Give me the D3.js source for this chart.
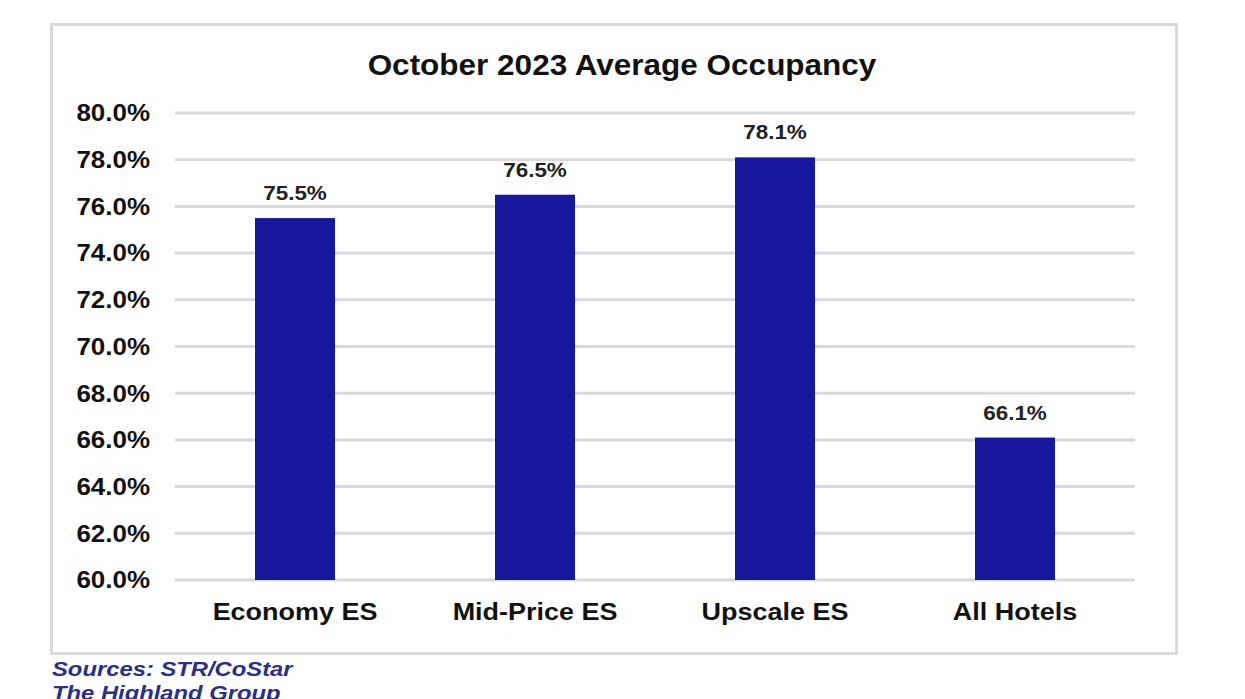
<!DOCTYPE html>
<html>
<head>
<meta charset="utf-8">
<script src="https://cdn.jsdelivr.net/npm/d3@7"></script>
<style>
  html, body { margin: 0; padding: 0; background: #fff; }
  svg { display: block; font-family: "Liberation Sans", Arial, sans-serif; }
</style>
</head>
<body>
<svg id="chart" width="1245" height="699"></svg>
<script>
const categories = ['Economy ES', 'Mid-Price ES', 'Upscale ES', 'All Hotels'];
const occupancy = [75.5, 76.5, 78.1, 66.1];
const yTicks = [60, 62, 64, 66, 68, 70, 72, 74, 76, 78, 80];

const PLOT = { left: 175, right: 1135, top: 113, bottom: 580 };
const BAR_COLOR = '#17179b';
const GRID_COLOR = '#d9d9d9';

// the source image is a little wider than tall, so text gets stretched sideways
function stretched(x, y, sx) {
  return `translate(${x},${y}) scale(${sx},1)`;
}

const svg = d3.select('#chart');

// outer frame
svg.append('rect')
  .attr('x', 51.5)
  .attr('y', 24.5)
  .attr('width', 1125)
  .attr('height', 629)
  .attr('fill', '#fff')
  .attr('stroke', GRID_COLOR)
  .attr('stroke-width', 3);

const x = d3.scaleBand()
  .domain(categories)
  .range([PLOT.left, PLOT.right])
  .paddingInner(2 / 3)
  .paddingOuter(1 / 3);

const y = d3.scaleLinear()
  .domain([60, 80])
  .range([PLOT.bottom, PLOT.top]);

// gridlines
svg.append('g')
  .selectAll('line')
  .data(yTicks)
  .join('line')
  .attr('x1', PLOT.left)
  .attr('x2', PLOT.right)
  .attr('y1', (d) => y(d))
  .attr('y2', (d) => y(d))
  .attr('stroke', GRID_COLOR)
  .attr('stroke-width', 3);

// y axis labels
const yAxis = d3.axisLeft(y)
  .tickValues(yTicks)
  .tickFormat((d) => `${d.toFixed(1)}%`)
  .tickSize(0);

const yAxisGroup = svg.append('g')
  .attr('transform', `translate(${PLOT.left},0)`)
  .call(yAxis);
yAxisGroup.select('.domain').remove();
yAxisGroup.selectAll('text')
  .attr('x', 0)
  .attr('transform', stretched(-25, 0, 1.06))
  .attr('font-size', 24.5)
  .attr('font-weight', 'bold')
  .attr('fill', '#111')
  .attr('font-family', '"Liberation Sans", Arial, sans-serif');

// bars
const data = categories.map((c, i) => ({ category: c, value: occupancy[i] }));

svg.append('g')
  .selectAll('rect')
  .data(data)
  .join('rect')
  .attr('x', (d) => x(d.category))
  .attr('y', (d) => y(d.value))
  .attr('width', x.bandwidth())
  .attr('height', (d) => y(60) - y(d.value))
  .attr('fill', BAR_COLOR);

// value labels
svg.append('g')
  .selectAll('text')
  .data(data)
  .join('text')
  .attr('transform', (d) => stretched(x(d.category) + x.bandwidth() / 2, y(d.value) - 18, 1.07))
  .attr('text-anchor', 'middle')
  .attr('font-size', 21)
  .attr('font-weight', 'bold')
  .attr('fill', '#222')
  .text((d) => `${d.value.toFixed(1)}%`);

// x axis labels
const xAxis = d3.axisBottom(x).tickSize(0);
const xAxisGroup = svg.append('g')
  .attr('transform', `translate(0,${PLOT.bottom})`)
  .call(xAxis);
xAxisGroup.select('.domain').remove();
xAxisGroup.selectAll('text')
  .attr('y', 0)
  .attr('dy', null)
  .attr('transform', stretched(0, 39.5, 1.1))
  .attr('font-size', 24.5)
  .attr('font-weight', 'bold')
  .attr('fill', '#111')
  .attr('font-family', '"Liberation Sans", Arial, sans-serif');

// title
svg.append('text')
  .attr('transform', stretched(622, 75, 1.05))
  .attr('text-anchor', 'middle')
  .attr('font-size', 30)
  .attr('font-weight', 'bold')
  .attr('fill', '#111')
  .text('October 2023 Average Occupancy');

// sources note
const note = svg.append('g')
  .attr('font-size', 19.5)
  .attr('font-weight', 'bold')
  .attr('font-style', 'italic')
  .attr('fill', '#2b2d8a');
note.append('text').attr('transform', stretched(52, 676, 1.22)).text('Sources: STR/CoStar');
note.append('text').attr('transform', stretched(52, 700, 1.22)).text('The Highland Group');
</script>
</body>
</html>
